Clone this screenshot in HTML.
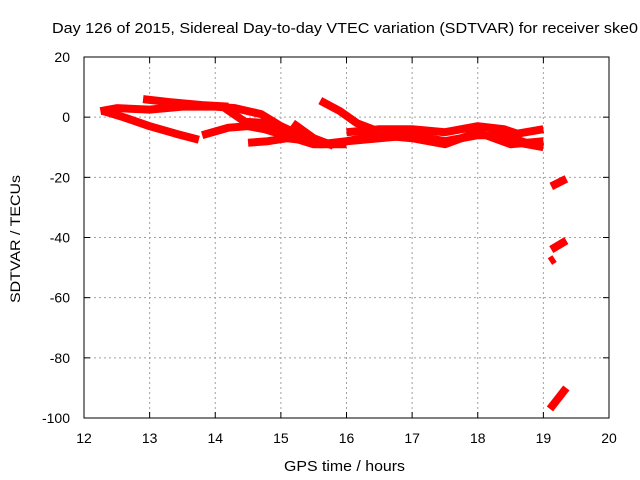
<!DOCTYPE html>
<html><head><meta charset="utf-8"><style>
body{margin:0;background:#fff}
svg{display:block;font-family:"Liberation Sans",sans-serif;font-size:14px}
</style></head><body>
<svg id="c" width="640" height="480">
<rect width="640" height="480" fill="#fff"/>
<text x="52" y="33" font-size="15" textLength="586" lengthAdjust="spacingAndGlyphs">Day 126 of 2015, Sidereal Day-to-day VTEC variation (SDTVAR) for receiver ske0</text>
<g id="grid"></g><g id="ticks"></g><g id="series"></g>
<rect x="84" y="57" width="525" height="361" fill="none" stroke="#000"/>
<text x="284" y="471" font-size="15" textLength="121" lengthAdjust="spacingAndGlyphs">GPS time / hours</text>
<text transform="translate(20,303) rotate(-90)" font-size="14" textLength="128" lengthAdjust="spacingAndGlyphs">SDTVAR / TECUs</text>
</svg>
<script>
const xTicks=[12,13,14,15,16,17,18,19,20];
const yTicks=[20,0,-20,-40,-60,-80,-100];
const traceA=[[12.9,6],[13.3,5],[13.8,4],[14.2,3.5]];
const traceB=[[12.25,2],[12.5,3],[13,2.5],[13.5,3.5],[14,3.5],[14.3,3],[14.7,1],[15,-3],[15.3,-6],[15.6,-8]];
const traceC=[[12.3,2],[12.6,0],[13,-3],[13.4,-5.5],[13.75,-7.5]];
const traceD=[[13.8,-6],[14.2,-3.5],[14.5,-3],[14.75,-4],[15.2,-7],[15.5,-9],[16,-9]];
const traceE=[[14.15,3],[14.45,-1.5],[14.8,-2],[15.2,-5],[15.5,-8]];
const traceF=[[14.5,-8.5],[14.8,-8],[15.1,-7],[15.5,-8]];
const traceG=[[15.6,5.5],[15.9,2],[16.16,-2],[16.4,-4]];
const traceH=[[15.18,-2],[15.5,-7],[15.8,-9.5]];
const traceI=[[16,-5],[16.5,-4],[17,-4],[17.5,-5],[18,-3],[18.4,-4],[18.6,-5.5],[19,-4]];
const traceJ=[[16,-8],[16.5,-7],[17,-6],[17.5,-8],[18,-6],[18.4,-6],[18.8,-9],[19,-9]];
const traceK=[[15.6,-9],[16,-8],[16.5,-6],[17,-7],[17.5,-9],[18,-5],[18.5,-9],[19,-8]];
const traceL=[[18.5,-8],[19,-10]];
const traceM=[[19.12,-23],[19.35,-20.5]];
const traceN=[[19.12,-44],[19.35,-41]];
const traceO=[[19.1,-48],[19.17,-47]];
const traceP=[[19.1,-97],[19.35,-90]];
const traces=[traceA,traceB,traceC,traceD,traceE,traceF,traceG,traceH,traceI,traceJ,traceK,traceL,traceM,traceN,traceO,traceP];
const X=h=>84+(h-12)*525/8, Y=v=>57+(20-v)*361/120;
const NS="http://www.w3.org/2000/svg";
const mk=(t,a,p)=>{const e=document.createElementNS(NS,t);for(const k in a)e.setAttribute(k,a[k]);p.appendChild(e);return e;};
const g=document.getElementById('grid'),tk=document.getElementById('ticks'),s=document.getElementById('series');
xTicks.forEach(t=>{
  if(t>12&&t<20){const l=mk('line',{x1:X(t),x2:X(t),y1:57,y2:418,stroke:'#a0a0a0','stroke-dasharray':'2,3'},g);
  
  }
  const tx=mk('text',{x:X(t),y:443,'text-anchor':'middle'},tk);tx.textContent=t;
  
  
  mk('line',{x1:X(t),x2:X(t),y1:418,y2:412,stroke:'#000'},tk);
  mk('line',{x1:X(t),x2:X(t),y1:57,y2:63,stroke:'#000'},tk);
});
yTicks.forEach(t=>{
  if(t<20&&t>-100){const l=mk('line',{x1:84,x2:609,y1:Y(t),y2:Y(t),stroke:'#a0a0a0','stroke-dasharray':'2,3'},g);
  
  }
  const tx=mk('text',{x:70,y:Y(t)+5,'text-anchor':'end'},tk);tx.textContent=t;
  
  
  mk('line',{x1:84,x2:90,y1:Y(t),y2:Y(t),stroke:'#000'},tk);
  mk('line',{x1:609,x2:603,y1:Y(t),y2:Y(t),stroke:'#000'},tk);
});
traces.forEach(tr=>{
  const p=mk('polyline',{points:tr.map(d=>X(d[0])+','+Y(d[1])).join(' '),fill:'none',stroke:'#f00','stroke-width':8,'stroke-linejoin':'round'},s);
  
  
});
</script>
</body></html>
